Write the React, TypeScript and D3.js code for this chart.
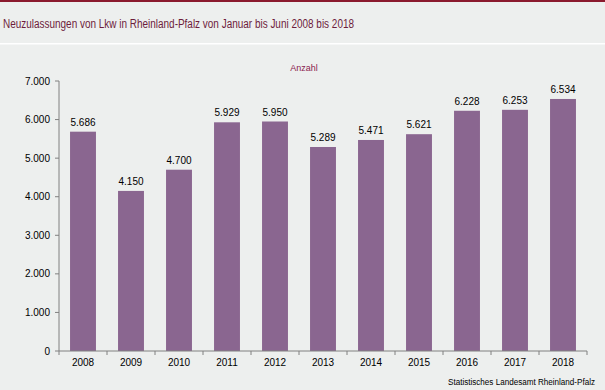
import React from "react";
import * as d3 from "d3";

const years = ["2008", "2009", "2010", "2011", "2012", "2013", "2014", "2015", "2016", "2017", "2018"];
const values = [5686, 4150, 4700, 5929, 5950, 5289, 5471, 5621, 6228, 6253, 6534];
const yTicks = [0, 1000, 2000, 3000, 4000, 5000, 6000, 7000];

const W = 605;
const H = 390;
const fmt = (v: number) => d3.format(",")(v).replace(/,/g, ".");

export default function App() {
  const x = d3.scaleBand<string>().domain(years).range([59, 587]).paddingInner(0.46).paddingOuter(0.23);
  const y = d3.scaleLinear().domain([0, 7000]).range([351, 81]);
  const band = (587 - 59) / years.length;
  const font = "'Liberation Sans', Arial, sans-serif";
  return (
    <svg width={W} height={H} style={{ position: "absolute", left: 0, top: 0 }} fontFamily={font}>
      <rect x={0} y={0} width={W} height={H} fill="#EDEFEE" />
      <rect x={0} y={0} width={W} height={2} fill="#8B1A2E" />
      <rect x={0} y={43} width={W} height={1.5} fill="#FFFFFF" />
      <text x={3} y={28} fontSize={12.5} fill="#6E1D3C" textLength={351} lengthAdjust="spacingAndGlyphs">
        Neuzulassungen von Lkw in Rheinland-Pfalz von Januar bis Juni 2008 bis 2018
      </text>
      <text x={304} y={71} fontSize={9} fill="#8B1D4E" textAnchor="middle">Anzahl</text>
      {yTicks.map((t) => (
        <g key={t}>
          <line x1={55} x2={59} y1={y(t)} y2={y(t)} stroke="#808080" strokeWidth={1} />
          <text x={50} y={y(t) + 3.5} fontSize={10} textAnchor="end" fill="#000">{fmt(t)}</text>
        </g>
      ))}
      {years.map((yr, i) => (
        <g key={yr}>
          <rect x={x(yr)!} y={y(values[i])} width={x.bandwidth()} height={351 - y(values[i])} fill="#8A6690" />
          <text x={x(yr)! + x.bandwidth() / 2} y={y(values[i]) - 6} fontSize={10} textAnchor="middle" fill="#000">
            {fmt(values[i])}
          </text>
          <text x={x(yr)! + x.bandwidth() / 2} y={366} fontSize={10} textAnchor="middle" fill="#000">{yr}</text>
        </g>
      ))}
      {d3.range(years.length + 1).map((i) => (
        <line key={i} x1={59 + i * band} x2={59 + i * band} y1={351} y2={355} stroke="#808080" strokeWidth={1} />
      ))}
      <line x1={59} x2={59} y1={y(7000)} y2={351} stroke="#808080" strokeWidth={1} />
      <line x1={59} x2={587} y1={351} y2={351} stroke="#808080" strokeWidth={1} />
      <text x={595} y={385} fontSize={8.5} textAnchor="end" fill="#000" textLength={147} lengthAdjust="spacingAndGlyphs">
        Statistisches Landesamt Rheinland-Pfalz
      </text>
    </svg>
  );
}
